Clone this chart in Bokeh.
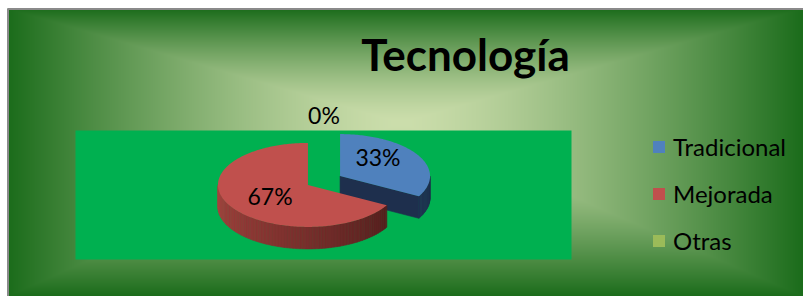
import numpy as np
from bokeh.plotting import figure
from bokeh.models import Range1d, Legend, LegendItem, ColumnDataSource
from bokeh.embed import file_html
from bokeh.resources import INLINE
from bokeh.core.properties import value

# ---------------- data ----------------
title = "Tecnología"
categories = ["Tradicional", "Mejorada", "Otras"]
values = [33, 67, 0]
labels = ["33%", "67%", "0%"]

# ---------------- style ----------------
top_colors = ["#4F81BD", "#C0504D", "#9BBB59"]
side_dark = ["#1E2F4D", "#451918", "#55702C"]
side_light = ["#2C4470", "#A8433F", "#7E9C45"]
FONT = "Lato"

W, H = 803, 296
CX0, CY0 = 7, 8  # top-left of the chart area (white outside)
p = figure(width=W, height=H, x_range=Range1d(0, W), y_range=Range1d(0, H),
           output_backend="svg", toolbar_location=None, min_border=0)
p.axis.visible = False
p.grid.visible = False
p.outline_line_color = None
p.background_fill_color = "white"
p.border_fill_color = "white"


def Y(y):
    return H - np.asarray(y, dtype=float)


# ---------------- background (rectangular path gradient) ----------------
BW, BH = W - CX0, H - CY0
gcx, gcy = 400.0 - CX0, 122.0 - CY0
xs_ = np.arange(BW) + 0.5
ys_ = np.arange(BH) + 0.5
XX, YY = np.meshgrid(xs_, ys_)
tx = np.where(XX < gcx, (gcx - XX) / gcx, (XX - gcx) / (BW - gcx))
ty = np.where(YY < gcy, (gcy - YY) / gcy, (YY - gcy) / (BH - gcy))
t = np.clip(np.maximum(tx, ty), 0, 1) ** 1.4
light = np.array([204, 222, 172], dtype=float)
dark = np.array([27, 108, 27], dtype=float)
rgb = light[None, None, :] * (1 - t[..., None]) + dark[None, None, :] * t[..., None]
rgb = rgb.astype(np.uint32)
img = (255 << 24) | (rgb[..., 2] << 16) | (rgb[..., 1] << 8) | rgb[..., 0]
img = img[::-1].astype(np.uint32)
p.image_rgba(image=[img], x=CX0, y=0, dw=BW, dh=BH)

# plot area
p.quad(left=75, right=571, top=Y(130), bottom=Y(259), fill_color="#00B050", line_color=None)

# ---------------- 3D pie ----------------
cx0, cy0 = 323.5, 180.0
rx, ry, depth, expl = 90.0, 42.0, 22.0, 0.207
total = float(sum(values))
bounds = np.concatenate([[0.0], np.cumsum(values) / total * 360.0])


def P(c, th):
    r = np.radians(th)
    return c[0] + rx * np.sin(r), c[1] - ry * np.cos(r)


def hex2rgb(h):
    return np.array([int(h[j:j + 2], 16) for j in (1, 3, 5)], float)


slices = []
for i, v in enumerate(values):
    a0, a1 = bounds[i], bounds[i + 1]
    mid = np.radians((a0 + a1) / 2)
    c = (cx0 + expl * 0.88 * rx * np.sin(mid) / 0.88, cy0 - expl * ry * np.cos(mid))
    slices.append((i, a0, a1, c))

order = sorted(slices, key=lambda s: s[3][1])
top_renderers = {}
for i, a0, a1, c in order:
    if a1 > a0:
        sx, sy, sc = [], [], []
        # cut faces facing the viewer
        if 0 < a1 < 180:
            ex, ey = P(c, a1)
            sx.append([c[0], ex, ex, c[0]]); sy.append(list(Y([c[1], ey, ey + depth, c[1] + depth]))); sc.append(side_dark[i])
        if 180 < a0 < 360:
            ex, ey = P(c, a0)
            sx.append([c[0], ex, ex, c[0]]); sy.append(list(Y([c[1], ey, ey + depth, c[1] + depth]))); sc.append(side_dark[i])
        # outer side (front-facing part)
        lo, hi = max(a0, 90.0), min(a1, 270.0)
        if hi > lo:
            n = max(2, int((hi - lo) / 2) + 1)
            ths = np.linspace(lo, hi, n)
            d, l = hex2rgb(side_dark[i]), hex2rgb(side_light[i])
            for k in range(n - 1):
                x1, y1 = P(c, ths[k]); x2, y2 = P(c, ths[k + 1])
                s = ((ths[k] + ths[k + 1]) / 2 - 90.0) / 180.0
                col = d * (1 - s) + l * s
                sx.append([x1, x2, x2, x1]); sy.append(list(Y([y1, y2, y2 + depth, y1 + depth])))
                sc.append("#%02x%02x%02x" % tuple(int(round(q)) for q in col))
        p.patches(xs=sx, ys=sy, fill_color=sc, line_color=sc, line_width=0.6)
        ths = np.linspace(a0, a1, max(3, int(a1 - a0) + 1))
        px, py = P(c, ths)
        src = ColumnDataSource(dict(xs=[[c[0]] + list(px)], ys=[list(Y([c[1]] + list(py)))]))
    else:
        # zero-size slice: degenerate patch (keeps its legend entry)
        src = ColumnDataSource(dict(xs=[[c[0]] * 3], ys=[list(Y([c[1]] * 3))]))
    top_renderers[i] = p.patches(xs="xs", ys="ys", source=src, fill_color=top_colors[i], line_color=None)

# data labels
lx, ly = [], []
for i, a0, a1, c in slices:
    mid = np.radians((a0 + a1) / 2)
    if a1 > a0:
        lx.append(c[0] + 0.49 * rx * np.sin(mid))
        ly.append(c[1] - 0.69 * ry * np.cos(mid) - 4)
    else:
        lx.append(c[0] + 1.35 * rx * np.sin(mid))
        ly.append(c[1] - 1.35 * ry * np.cos(mid))
p.text(x=lx, y=list(Y(ly)), text=labels, text_align="center", text_baseline="middle",
       text_font=value(FONT), text_font_size="23px", text_color="#000000")

# title
p.text(x=[465], y=list(Y([53])), text=[title], text_align="center", text_baseline="middle",
       text_font=value(FONT), text_font_style="bold", text_font_size="44px", text_color="#000000")

# legend
legend = Legend(items=[LegendItem(label=categories[i], renderers=[top_renderers[i]]) for i in range(len(categories))],
                location=(651, 41), glyph_width=15, glyph_height=15, label_standoff=7,
                label_text_font=FONT, label_text_font_size="24px", label_text_color="#000000",
                spacing=18, padding=0, margin=0, background_fill_alpha=0, border_line_color=None)
p.add_layout(legend)

# chart border (left/top visible edges)
p.line(x=[CX0 + 0.5, CX0 + 0.5, W], y=list(Y([H, CY0 + 0.5, CY0 + 0.5])), line_color="#8A8A8A", line_width=2)

open("out.html", "w").write(file_html(p, INLINE))
